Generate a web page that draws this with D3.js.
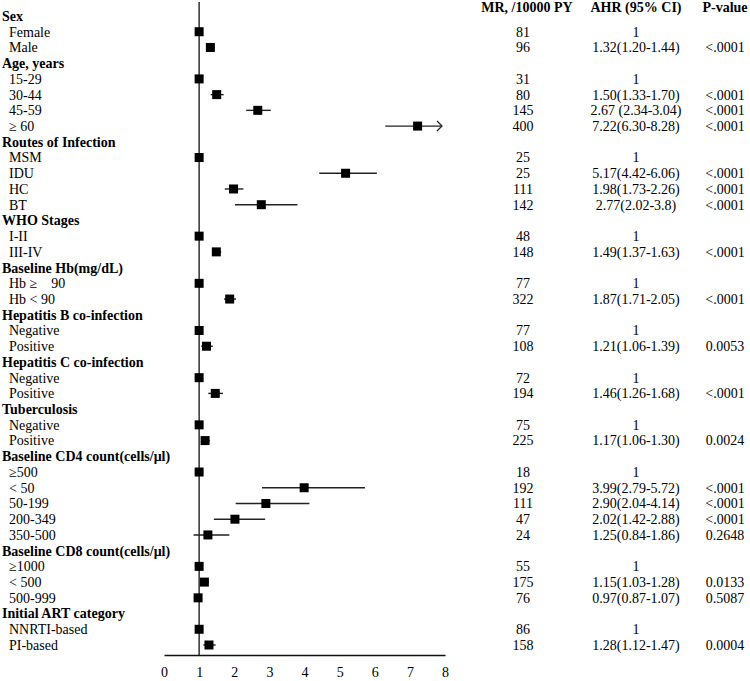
<!DOCTYPE html>
<html>
<head>
<meta charset="utf-8">
<script src="https://cdn.jsdelivr.net/npm/d3@7"></script>
<style>
  body { margin: 0; background: #fff; }
  svg { display: block; font-family: "Liberation Serif", "DejaVu Serif", serif; }
</style>
</head>
<body>
<div id="chart"></div>
<script>
// Groups and their levels
const groups = [
  'Sex', 'Age, years', 'Routes of Infection', 'WHO Stages', 'Baseline Hb(mg/dL)',
  'Hepatitis B co-infection', 'Hepatitis C co-infection', 'Tuberculosis',
  'Baseline CD4 count(cells/\u03bcl)', 'Baseline CD8 count(cells/\u03bcl)', 'Initial ART category',
]
const levels = [
  ['Female', 'Male'],
  ['15-29', '30-44', '45-59', '\u2265 60'],
  ['MSM', 'IDU', 'HC', 'BT'],
  ['I-II', 'III-IV'],
  ['Hb \u2265    90', 'Hb < 90'],
  ['Negative', 'Positive'],
  ['Negative', 'Positive'],
  ['Negative', 'Positive'],
  ['\u2265500', '< 50', '50-199', '200-349', '350-500'],
  ['\u22651000', '< 500', '500-999'],
  ['NNRTI-based', 'PI-based'],
]
// MR per 10000 PY
const mr = [
  [81, 96], [31, 80, 145, 400], [25, 25, 111, 142], [48, 148], [77, 322],
  [77, 108], [72, 194], [75, 225], [18, 192, 111, 47, 24], [55, 175, 76], [86, 158],
]
// adjusted hazard ratios and 95% CI
const ahr = [
  [1, 1.32], [1, 1.50, 2.67, 7.22], [1, 5.17, 1.98, 2.77], [1, 1.49], [1, 1.87],
  [1, 1.21], [1, 1.46], [1, 1.17], [1, 3.99, 2.90, 2.02, 1.25], [1, 1.15, 0.97], [1, 1.28],
]
const lower = [
  [null, 1.20], [null, 1.33, 2.34, 6.30], [null, 4.42, 1.73, 2.02], [null, 1.37], [null, 1.71],
  [null, 1.06], [null, 1.26], [null, 1.06], [null, 2.79, 2.04, 1.42, 0.84], [null, 1.03, 0.87], [null, 1.12],
]
const upper = [
  [null, 1.44], [null, 1.70, 3.04, 8.28], [null, 6.06, 2.26, 3.8], [null, 1.63], [null, 2.05],
  [null, 1.39], [null, 1.68], [null, 1.30], [null, 5.72, 4.14, 2.88, 1.86], [null, 1.28, 1.07], [null, 1.47],
]
const ciText = [
  ['1', '1.32(1.20-1.44)'],
  ['1', '1.50(1.33-1.70)', '2.67 (2.34-3.04)', '7.22(6.30-8.28)'],
  ['1', '5.17(4.42-6.06)', '1.98(1.73-2.26)', '2.77(2.02-3.8)'],
  ['1', '1.49(1.37-1.63)'],
  ['1', '1.87(1.71-2.05)'],
  ['1', '1.21(1.06-1.39)'],
  ['1', '1.46(1.26-1.68)'],
  ['1', '1.17(1.06-1.30)'],
  ['1', '3.99(2.79-5.72)', '2.90(2.04-4.14)', '2.02(1.42-2.88)', '1.25(0.84-1.86)'],
  ['1', '1.15(1.03-1.28)', '0.97(0.87-1.07)'],
  ['1', '1.28(1.12-1.47)'],
]
const pvals = [
  ['', '<.0001'], ['', '<.0001', '<.0001', '<.0001'], ['', '<.0001', '<.0001', '<.0001'],
  ['', '<.0001'], ['', '<.0001'], ['', '0.0053'], ['', '<.0001'], ['', '0.0024'],
  ['', '<.0001', '<.0001', '<.0001', '0.2648'], ['', '0.0133', '0.5087'], ['', '0.0004'],
]
const xTicks = [0, 1, 2, 3, 4, 5, 6, 7, 8]
const colHeaders = ['MR, /10000 PY', 'AHR (95% CI)', 'P-value']

// flatten into rows
const rows = []
groups.forEach((g, gi) => {
  rows.push({ header: true, label: g })
  levels[gi].forEach((l, li) => {
    rows.push({
      header: false, label: l, mr: mr[gi][li], ahr: ahr[gi][li],
      lo: lower[gi][li], hi: upper[gi][li], ci: ciText[gi][li], p: pvals[gi][li],
    })
  })
})

const W = 750, H = 681
const svg = d3.select('#chart').append('svg').attr('width', W).attr('height', H)

const x = d3.scaleLinear().domain([0, 8]).range([164, 445])
const y = d3.scalePoint().domain(d3.range(rows.length)).range([16, 645])
const axisY = 655
const fs = 14

// reference line at 1
svg.append('line')
  .attr('x1', x(1)).attr('x2', x(1))
  .attr('y1', 2).attr('y2', axisY)
  .attr('stroke', '#111').attr('stroke-width', 1.3)

// x axis
const ax = svg.append('g')
  .attr('transform', `translate(0,${axisY})`)
  .call(d3.axisBottom(x).tickValues(xTicks).tickSize(0).tickSizeOuter(0).tickPadding(12))
ax.select('.domain').attr('stroke', '#111').attr('stroke-width', 1.3)
ax.selectAll('text').attr('font-size', 14).attr('fill', '#000')
  .attr('font-family', '"Liberation Serif", serif')

// row labels
svg.append('g').selectAll('text')
  .data(rows)
  .join('text')
  .attr('x', d => d.header ? 2 : 9)
  .attr('y', (d, i) => y(i))
  .attr('dy', '0.35em')
  .attr('font-size', fs)
  .attr('font-weight', d => d.header ? 'bold' : 'normal')
  .style('white-space', 'pre')
  .text(d => d.label)

const items = rows.map((d, i) => ({ ...d, i })).filter(d => !d.header)

// CI lines (clipped at axis max, arrow if beyond)
const plot = svg.append('g')
plot.selectAll('line.ci')
  .data(items.filter(d => d.lo != null))
  .join('line')
  .attr('class', 'ci')
  .attr('x1', d => x(d.lo))
  .attr('x2', d => x(Math.min(d.hi, 8)) - (d.hi > 8 ? 4 : 0))
  .attr('y1', d => y(d.i)).attr('y2', d => y(d.i))
  .attr('stroke', '#222').attr('stroke-width', 1.4)

plot.selectAll('path.arrow')
  .data(items.filter(d => d.hi != null && d.hi > 8))
  .join('path')
  .attr('class', 'arrow')
  .attr('d', d => {
    const ex = x(8) - 4, ey = y(d.i)
    return `M${ex - 4},${ey - 5} L${ex + 1},${ey} L${ex - 4},${ey + 5}`
  })
  .attr('fill', 'none').attr('stroke', '#222').attr('stroke-width', 1.3)

// markers
const sq = 9
plot.selectAll('rect')
  .data(items)
  .join('rect')
  .attr('x', d => x(d.ahr) - sq / 2)
  .attr('y', d => y(d.i) - sq / 2)
  .attr('width', sq).attr('height', sq)
  .attr('fill', '#000')

// table columns
const colX = [523, 636, 725]
svg.append('g').selectAll('text')
  .data(colHeaders)
  .join('text')
  .attr('x', (d, i) => colX[i] + (i === 0 ? 4 : 0))
  .attr('y', 7)
  .attr('dy', '0.35em')
  .attr('text-anchor', 'middle')
  .attr('font-size', fs)
  .attr('font-weight', 'bold')
  .text(d => d)

const tbl = svg.append('g').attr('font-size', fs).attr('text-anchor', 'middle')
const cols = [d => d.mr, d => d.ci, d => d.p]
cols.forEach((f, ci) => {
  tbl.append('g').selectAll('text')
    .data(items)
    .join('text')
    .attr('x', colX[ci])
    .attr('y', d => y(d.i))
    .attr('dy', '0.35em')
    .text(f)
})
</script>
</body>
</html>
